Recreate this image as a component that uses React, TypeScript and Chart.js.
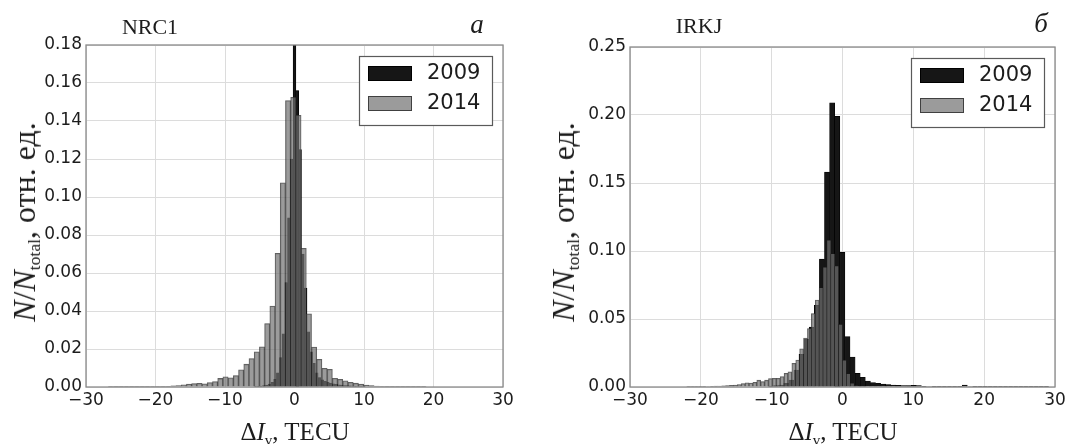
import React, { useEffect, useRef } from "react";
import { Chart, registerables } from "chart.js";

Chart.register(...registerables);

// ---------------- data ----------------
const X_TICKS = [-30, -20, -10, 0, 10, 20, 30];
const NRC1_Y_TICKS = [0, 0.02, 0.04, 0.06, 0.08, 0.1, 0.12, 0.14, 0.16, 0.18];
const IRKJ_Y_TICKS = [0, 0.05, 0.1, 0.15, 0.2, 0.25];
const SERIES_LABELS = ["2009", "2014"];
const PANEL_STATIONS = ["NRC1", "IRKJ"];
const PANEL_LETTERS = ["a", "б"];

// NRC1, 2009: bin width 0.4 TECU, first bin centre -5.6
const NRC1_2009_FIRST = -5.6;
const NRC1_2009_WIDTH = 0.4;
const NRC1_2009 = [
  0.0003, 0.0004, 0.0005, 0.0007, 0.001, 0.0015, 0.0025, 0.004, 0.0075, 0.0155,
  0.028, 0.055, 0.089, 0.12, 0.19, 0.156, 0.125, 0.07, 0.052, 0.029,
  0.0185, 0.0125, 0.0075, 0.005, 0.0038, 0.003, 0.0025, 0.002, 0.0017, 0.0014,
  0.0012, 0.001, 0.0008, 0.0007, 0.0006, 0.0005, 0.0004, 0.0003, 0.0003, 0.0002,
];

// NRC1, 2014: bin width 0.75 TECU, first bin centre -26.425
const NRC1_2014_FIRST = -26.425;
const NRC1_2014_WIDTH = 0.75;
const NRC1_2014 = [
  0.0003, 0.0001, 0.0001, 0.0001, 0.0001, 0.0002, 0.0001, 0.0002, 0.0003, 0.0003,
  0.0002, 0.0004, 0.0006, 0.0008, 0.0011, 0.0015, 0.0018, 0.0019, 0.0017, 0.0023,
  0.0028, 0.0045, 0.0053, 0.0048, 0.006, 0.009, 0.012, 0.015, 0.0185, 0.0212,
  0.0334, 0.0426, 0.0703, 0.1075, 0.1507, 0.1525, 0.143, 0.073, 0.0385, 0.021,
  0.0146, 0.0098, 0.0093, 0.0046, 0.004, 0.0032, 0.0025, 0.002, 0.0015, 0.001,
  0.0007, 0.0005, 0.0003, 0.0002, 0.0001, 0.0001, 0.0002, 0.0001, 0.0001, 0.0002,
  0.0001,
];

// IRKJ, 2009: bin width 0.72 TECU, first bin centre -10.1
const IRKJ_2009_FIRST = -10.1;
const IRKJ_2009_WIDTH = 0.72;
const IRKJ_2009 = [
  0.0007, 0.001, 0.0015, 0.0027, 0.005, 0.0125, 0.024, 0.035, 0.044, 0.06,
  0.094, 0.158, 0.209, 0.199, 0.099, 0.037, 0.022, 0.01, 0.0071, 0.0044,
  0.0032, 0.0027, 0.0022, 0.0018, 0.0015, 0.0012, 0.0011, 0.001, 0.0012, 0.0011,
  0.0005, 0.0004, 0.0003, 0.0003, 0.0003, 0.0002, 0.0002, 0.0005, 0.0015, 0.0004,
  0.0002, 0.0002, 0.0001, 0.0002, 0.0001, 0.0001, 0.0002, 0.0001, 0.0001, 0.0001,
  0.0001, 0.0002, 0.0001, 0.0002, 0.0003,
];

// IRKJ, 2014: bin width 0.55 TECU, first bin centre -21.725
const IRKJ_2014_FIRST = -21.725;
const IRKJ_2014_WIDTH = 0.55;
const IRKJ_2014 = [
  0.0002, 0.0002, 0.0003, 0.0003, 0.0003, 0.0004, 0.0005, 0.0006, 0.0007, 0.0009,
  0.001, 0.0013, 0.0015, 0.0018, 0.0025, 0.003, 0.0029, 0.0034, 0.005, 0.004,
  0.005, 0.0062, 0.0064, 0.0064, 0.0076, 0.01, 0.0112, 0.0174, 0.0198, 0.028,
  0.036, 0.043, 0.054, 0.064, 0.073, 0.088, 0.108, 0.098, 0.089, 0.046,
  0.0196, 0.0098, 0.0027, 0.001, 0.0005, 0.0003,
];

// ---------------- helpers ----------------
const toBins = (first: number, width: number, values: number[]) =>
  values.map((y, i) => ({ x: +(first + i * width).toFixed(4), y }));

const TICK_FONT = { family: "'DejaVu Sans', sans-serif", size: 17 };
const TICK_COLOR = "#1c1c1c";
const GRID_COLOR = "#dcdcdc";
const SERIF = "'Liberation Serif', 'DejaVu Serif', serif";

const framePlugin = {
  id: "frame",
  afterDatasetsDraw(chart: any) {
    const { ctx, chartArea } = chart;
    const { left, top, right, bottom } = chartArea;
    ctx.save();
    ctx.strokeStyle = "#8a8a8a";
    ctx.lineWidth = 1.3;
    ctx.strokeRect(left, top, right - left, bottom - top);
    ctx.restore();
  },
};

const legendPlugin = {
  id: "legendBox",
  afterDraw(chart: any) {
    const { ctx, chartArea } = chart;
    const w = 133;
    const h = 69;
    const x = Math.round(chartArea.right - 11 - w);
    const y = Math.round(chartArea.top + 11);
    ctx.save();
    ctx.fillStyle = "#ffffff";
    ctx.fillRect(x, y, w, h);
    ctx.strokeStyle = "#5a5a5a";
    ctx.lineWidth = 1.2;
    ctx.strokeRect(x + 0.5, y + 0.5, w, h);
    chart.data.datasets.forEach((ds: any, i: number) => {
      const sy = y + 10 + i * 30;
      ctx.fillStyle = ds.backgroundColor;
      ctx.fillRect(x + 9, sy, 44, 15);
      ctx.strokeStyle = ds.borderColor;
      ctx.lineWidth = 1;
      ctx.strokeRect(x + 9.5, sy + 0.5, 43, 14);
      ctx.fillStyle = "#1c1c1c";
      ctx.font = "21px 'DejaVu Sans', sans-serif";
      ctx.textBaseline = "middle";
      ctx.textAlign = "left";
      ctx.fillText(ds.label, x + 68, sy + 8);
    });
    ctx.restore();
  },
};

function buildConfig(p: {
  d2009: { x: number; y: number }[];
  d2014: { x: number; y: number }[];
  yTicks: number[];
  padTop: number;
  padRight: number;
  yWidth: number;
}): any {
  const yMax = p.yTicks[p.yTicks.length - 1];
  return {
    type: "bar",
    data: {
      datasets: [
        {
          label: SERIES_LABELS[0],
          data: p.d2009,
          xAxisID: "x",
          yAxisID: "y",
          order: 2,
          backgroundColor: "rgb(22,22,22)",
          borderColor: "rgb(0,0,0)",
          borderWidth: 0.6,
          barPercentage: 1,
          categoryPercentage: 1,
          grouped: false,
        },
        {
          label: SERIES_LABELS[1],
          data: p.d2014,
          xAxisID: "x2",
          yAxisID: "y",
          order: 1,
          backgroundColor: "rgba(112,112,112,0.7)",
          borderColor: "rgba(25,25,25,0.7)",
          borderWidth: 0.6,
          barPercentage: 1,
          categoryPercentage: 1,
          grouped: false,
        },
      ],
    },
    options: {
      animation: false,
      responsive: false,
      maintainAspectRatio: false,
      layout: { padding: { left: 0, right: p.padRight, top: p.padTop, bottom: 0 } },
      plugins: { legend: { display: false }, tooltip: { enabled: false }, title: { display: false } },
      scales: {
        x: {
          type: "linear",
          min: X_TICKS[0],
          max: X_TICKS[X_TICKS.length - 1],
          offset: false,
          afterBuildTicks: (s: any) => {
            s.ticks = X_TICKS.map((v) => ({ value: v }));
          },
          afterFit: (s: any) => {
            s.height = 57;
          },
          ticks: {
            callback: (v: any) => (Number(v) < 0 ? "\u2212" + Math.abs(Number(v)) : String(v)),
            font: TICK_FONT,
            color: TICK_COLOR,
            padding: 3,
            maxRotation: 0,
            autoSkip: false,
          },
          grid: { color: GRID_COLOR, lineWidth: 1, drawTicks: false, offset: false },
          border: { display: false },
        },
        x2: {
          type: "linear",
          min: X_TICKS[0],
          max: X_TICKS[X_TICKS.length - 1],
          offset: false,
          display: false,
        },
        y: {
          type: "linear",
          min: 0,
          max: yMax,
          afterBuildTicks: (s: any) => {
            s.ticks = p.yTicks.map((v) => ({ value: v }));
          },
          afterFit: (s: any) => {
            s.width = p.yWidth;
          },
          ticks: {
            callback: (v: any) => Number(v).toFixed(2),
            font: TICK_FONT,
            color: TICK_COLOR,
            padding: 4,
          },
          grid: { color: GRID_COLOR, lineWidth: 1, drawTicks: false },
          border: { display: false },
        },
      },
    },
    plugins: [framePlugin, legendPlugin],
  };
}

function Panel({ left, config }: { left: number; config: any }) {
  const ref = useRef<HTMLCanvasElement>(null);
  useEffect(() => {
    const chart = new Chart(ref.current as HTMLCanvasElement, config);
    return () => chart.destroy();
  }, []);
  return (
    <canvas
      ref={ref}
      width={543}
      height={444}
      style={{ position: "absolute", left, top: 0, width: 543, height: 444 }}
    />
  );
}

const abs = (x: number, y: number, extra: any = {}): any => ({
  position: "absolute",
  left: x,
  top: y,
  transform: "translate(-50%,-50%)",
  whiteSpace: "nowrap",
  lineHeight: 1,
  color: "#1c1c1c",
  fontFamily: SERIF,
  ...extra,
});

function YTitle({ x, y }: { x: number; y: number }) {
  return (
    <div style={abs(x, y, { fontSize: 32, transform: "translate(-50%,-50%) rotate(-90deg)" })}>
      <i>N</i>/<i>N</i>
      <span style={{ fontSize: "0.55em", position: "relative", top: "0.3em" }}>total</span>, отн. ед.
    </div>
  );
}

function XTitle({ x, y }: { x: number; y: number }) {
  return (
    <div style={abs(x, y, { fontSize: 25 })}>
      Δ<i>I</i>
      <span style={{ fontSize: "0.6em", position: "relative", top: "0.3em" }}>v</span>, TECU
    </div>
  );
}

export default function App() {
  useEffect(() => {
    document.body.style.margin = "0";
  }, []);

  const leftConfig = buildConfig({
    d2009: toBins(NRC1_2009_FIRST, NRC1_2009_WIDTH, NRC1_2009),
    d2014: toBins(NRC1_2014_FIRST, NRC1_2014_WIDTH, NRC1_2014),
    yTicks: NRC1_Y_TICKS,
    padTop: 45,
    padRight: 40,
    yWidth: 86,
  });
  const rightConfig = buildConfig({
    d2009: toBins(IRKJ_2009_FIRST, IRKJ_2009_WIDTH, IRKJ_2009),
    d2014: toBins(IRKJ_2014_FIRST, IRKJ_2014_WIDTH, IRKJ_2014),
    yTicks: IRKJ_Y_TICKS,
    padTop: 47,
    padRight: 31,
    yWidth: 87,
  });

  return (
    <div style={{ position: "relative", width: 1086, height: 444, background: "#fff", overflow: "hidden" }}>
      <Panel left={0} config={leftConfig} />
      <Panel left={543} config={rightConfig} />

      <div style={abs(150, 27, { fontSize: 22 })}>{PANEL_STATIONS[0]}</div>
      <div style={abs(477, 24, { fontSize: 27, fontStyle: "italic" })}>{PANEL_LETTERS[0]}</div>
      <div style={abs(699, 26, { fontSize: 22 })}>{PANEL_STATIONS[1]}</div>
      <div style={abs(1041, 23, { fontSize: 27, fontStyle: "italic" })}>{PANEL_LETTERS[1]}</div>

      <YTitle x={24} y={222} />
      <YTitle x={563} y={222} />
      <XTitle x={295} y={431} />
      <XTitle x={843} y={431} />
    </div>
  );
}
